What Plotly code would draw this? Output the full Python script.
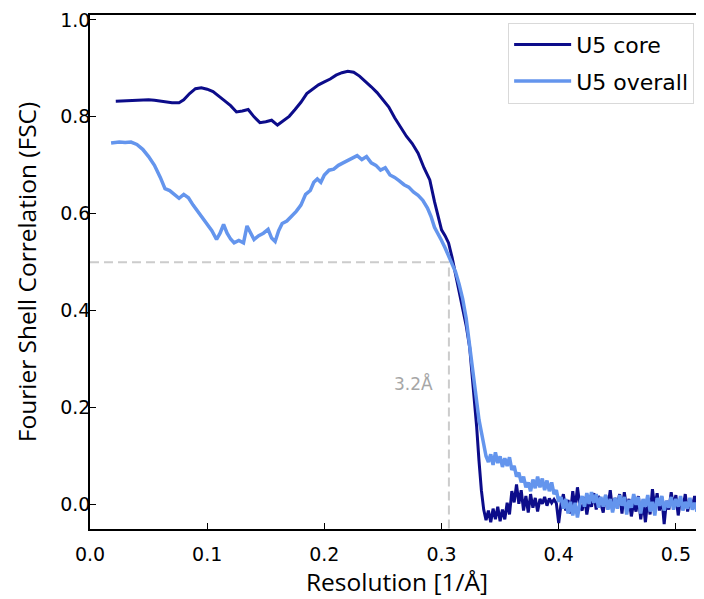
import plotly.graph_objects as go

# FSC curves.
# Smooth part of each curve
core_head_x = [0.022, 0.030, 0.040, 0.050, 0.055, 0.060, 0.065, 0.070, 0.076, 0.080,
               0.085, 0.090, 0.095, 0.100, 0.105, 0.110, 0.115, 0.120, 0.125, 0.130,
               0.135, 0.140, 0.145, 0.150, 0.155, 0.160, 0.165, 0.170, 0.175, 0.180,
               0.185, 0.190, 0.195, 0.200, 0.205, 0.210, 0.215, 0.220, 0.225, 0.230,
               0.235, 0.240, 0.245, 0.250, 0.255, 0.260, 0.265, 0.270, 0.275, 0.280,
               0.285, 0.290, 0.294, 0.297, 0.300, 0.303, 0.306, 0.309, 0.312, 0.315,
               0.318, 0.321, 0.324, 0.327, 0.330, 0.332]
core_head_y = [0.832, 0.833, 0.833, 0.835, 0.834, 0.832, 0.831, 0.829, 0.829, 0.835,
               0.848, 0.858, 0.860, 0.857, 0.852, 0.843, 0.833, 0.823, 0.810, 0.812,
               0.815, 0.800, 0.788, 0.790, 0.793, 0.783, 0.792, 0.801, 0.815, 0.830,
               0.848, 0.858, 0.866, 0.872, 0.878, 0.886, 0.891, 0.894, 0.892, 0.884,
               0.874, 0.862, 0.850, 0.836, 0.820, 0.798, 0.778, 0.760, 0.745, 0.725,
               0.695, 0.670, 0.625, 0.595, 0.567, 0.555, 0.540, 0.510, 0.475, 0.445,
               0.410, 0.370, 0.325, 0.250, 0.160, 0.090]

overall_head_x = [0.018, 0.025, 0.030, 0.035, 0.040, 0.045, 0.050, 0.055, 0.060, 0.064,
                  0.068, 0.072, 0.076, 0.080, 0.084, 0.088, 0.092, 0.096, 0.100, 0.104,
                  0.108, 0.111, 0.114, 0.117, 0.120, 0.123, 0.127, 0.131, 0.134, 0.137,
                  0.140, 0.144, 0.148, 0.152, 0.155, 0.158, 0.161, 0.164, 0.168, 0.172,
                  0.176, 0.180, 0.184, 0.188, 0.191, 0.194, 0.197, 0.200, 0.204, 0.208,
                  0.212, 0.216, 0.220, 0.224, 0.228, 0.232, 0.236, 0.240, 0.244, 0.248,
                  0.252, 0.256, 0.260, 0.264, 0.268, 0.272, 0.276, 0.280, 0.284, 0.288,
                  0.291, 0.294, 0.297, 0.300, 0.303, 0.306, 0.309, 0.312, 0.315, 0.318,
                  0.321, 0.324, 0.327, 0.330, 0.332]
overall_head_y = [0.746, 0.748, 0.747, 0.748, 0.743, 0.733, 0.718, 0.700, 0.675, 0.652,
                  0.648, 0.640, 0.632, 0.640, 0.633, 0.618, 0.605, 0.593, 0.580, 0.565,
                  0.547, 0.560, 0.578, 0.560, 0.548, 0.540, 0.545, 0.540, 0.575, 0.560,
                  0.547, 0.555, 0.560, 0.568, 0.550, 0.543, 0.565, 0.580, 0.585, 0.595,
                  0.605, 0.618, 0.640, 0.648, 0.665, 0.672, 0.665, 0.680, 0.690, 0.692,
                  0.700, 0.705, 0.710, 0.715, 0.720, 0.712, 0.718, 0.705, 0.700, 0.690,
                  0.695, 0.680, 0.675, 0.668, 0.660, 0.655, 0.645, 0.638, 0.628, 0.612,
                  0.595, 0.572, 0.560, 0.545, 0.530, 0.512, 0.498, 0.480, 0.455, 0.425,
                  0.385, 0.325, 0.270, 0.205, 0.175]

# Noisy tail past the cut-off, both curves share the same resolution grid
tail_x = [0.334, 0.336, 0.338, 0.340, 0.342, 0.344, 0.346, 0.348, 0.350, 0.352,
          0.354, 0.356, 0.358, 0.360, 0.362, 0.364, 0.366, 0.368, 0.370, 0.372,
          0.374, 0.376, 0.378, 0.380, 0.382, 0.384, 0.386, 0.388, 0.390, 0.392,
          0.394, 0.396, 0.398, 0.400, 0.402, 0.404, 0.406, 0.408, 0.410, 0.412,
          0.414, 0.416, 0.418, 0.420, 0.422, 0.424, 0.426, 0.428, 0.430, 0.432,
          0.434, 0.436, 0.438, 0.440, 0.442, 0.444, 0.446, 0.448, 0.450, 0.452,
          0.454, 0.456, 0.458, 0.460, 0.462, 0.464, 0.466, 0.468, 0.470, 0.472,
          0.474, 0.476, 0.478, 0.480, 0.482, 0.484, 0.486, 0.488, 0.490, 0.492,
          0.494, 0.496, 0.498, 0.500, 0.502, 0.504, 0.506, 0.508, 0.510, 0.512,
          0.514, 0.516, 0.518, 0.520, 0.522, 0.524]
core_tail_y = [0.030, -0.010, -0.032, -0.012, -0.036, -0.008, -0.030, -0.004, -0.034, -0.010,
               -0.030, 0.004, -0.020, 0.028, 0.005, 0.042, 0.002, 0.030, -0.012, 0.018,
               -0.016, 0.022, -0.006, 0.014, -0.014, 0.012, 0.002, 0.016, -0.002, 0.013,
               0.004, 0.011, 0.003, -0.038, 0.002, 0.022, -0.012, 0.010, -0.018, 0.028,
               -0.008, 0.036, 0.000, -0.012, 0.016, -0.020, 0.008, -0.004, 0.024, -0.010,
               0.018, 0.002, -0.016, 0.020, -0.004, 0.030, -0.012, 0.014, -0.002, 0.022,
               -0.018, 0.026, -0.008, 0.012, -0.024, 0.004, -0.014, 0.018, -0.030, 0.006,
               -0.036, 0.010, -0.020, 0.032, -0.006, 0.024, -0.012, 0.016, -0.040, 0.008,
               -0.010, 0.026, -0.002, 0.020, -0.022, 0.012, -0.008, 0.022, -0.014, 0.010,
               -0.004, 0.018, -0.012, 0.008, -0.006, 0.012]
overall_tail_y = [0.150, 0.120, 0.100, 0.088, 0.104, 0.082, 0.108, 0.086, 0.100, 0.078,
                  0.096, 0.080, 0.098, 0.072, 0.080, 0.058, 0.066, 0.046, 0.058, 0.036,
                  0.046, 0.028, 0.052, 0.034, 0.058, 0.036, 0.054, 0.030, 0.050, 0.028,
                  0.046, 0.022, 0.030, 0.006, 0.016, -0.008, 0.012, -0.018, 0.006, -0.022,
                  0.004, -0.026, 0.002, 0.018, -0.004, 0.024, 0.002, 0.026, 0.004, 0.022,
                  -0.006, 0.016, -0.004, 0.020, -0.010, 0.012, -0.016, 0.014, -0.008, 0.020,
                  -0.002, 0.016, -0.020, 0.010, -0.006, 0.022, 0.000, 0.016, -0.018, 0.012,
                  -0.004, 0.020, -0.014, 0.006, -0.022, 0.014, -0.002, 0.018, -0.012, 0.008,
                  -0.006, 0.016, -0.010, 0.012, -0.004, 0.018, -0.012, 0.006, -0.008, 0.014,
                  -0.010, 0.004, -0.014, 0.010, -0.006, 0.008]

fsc_cut = 0.5
res_cut = 0.3063  # where the curves cross 0.5
cut_label = "3.2Å"

x_ticks = [0.0, 0.1, 0.2, 0.3, 0.4, 0.5]
y_ticks = [0.0, 0.2, 0.4, 0.6, 0.8, 1.0]

NAVY = "#0c0c8a"
LIGHT = "#6495ed"
GUIDE_GREY = "#cccccc"

fig = go.Figure()

# threshold guides
fig.add_trace(go.Scatter(
    x=[0, res_cut, res_cut], y=[fsc_cut, fsc_cut, -0.05],
    mode="lines", line=dict(color=GUIDE_GREY, width=2, dash="9px,5px"),
    showlegend=False, hoverinfo="skip",
))

fig.add_trace(go.Scatter(
    x=core_head_x + tail_x, y=core_head_y + core_tail_y,
    mode="lines", name="U5 core", legendgroup="core",
    line=dict(color=NAVY, width=3),
))
fig.add_trace(go.Scatter(
    x=overall_head_x + tail_x, y=overall_head_y + overall_tail_y,
    mode="lines", name="U5 overall", legendgroup="overall",
    line=dict(color=LIGHT, width=3.5),
))

fig.add_annotation(
    x=0.2944, y=0.25, text=cut_label, showarrow=False,
    xanchor="right", yanchor="middle",
    font=dict(family="DejaVu Sans", size=17, color="#a6a6a6"),
)

axis_common = dict(
    showline=True, linecolor="black", linewidth=1.5,
    ticks="inside", ticklen=6, tickwidth=1.2, tickcolor="black",
    showgrid=False, zeroline=False, automargin=False,
    tickfont=dict(family="DejaVu Sans", size=19, color="black"),
    title_font=dict(family="Open Sans", size=24.5, color="black"),
)

fig.update_xaxes(
    range=[0, 0.524], tickvals=x_ticks, tickformat=".1f",
    title_text="Resolution [1/Å]", title_standoff=10,
    ticklabelstandoff=7, mirror=True, **axis_common,
)
fig.update_yaxes(
    range=[-0.05, 1.01], tickvals=y_ticks, tickformat=".1f",
    title_text="Fourier Shell Correlation (FSC)", title_standoff=17,
    ticklabelstandoff=-6, **axis_common,
)

# the page body adds an 8px offset, so the margins are shifted by that much
fig.update_layout(
    width=704, height=599,
    margin=dict(l=82, r=8, t=7, b=78),
    paper_bgcolor="white", plot_bgcolor="white",
    legend=dict(
        x=0.681, y=0.985, xanchor="left", yanchor="top",
        bordercolor="#d9d9d9", borderwidth=1, bgcolor="white",
        font=dict(family="DejaVu Sans", size=22, color="black"),
        itemwidth=57, traceorder="grouped", tracegroupgap=5,
    ),
)

fig.write_html("out.html")
